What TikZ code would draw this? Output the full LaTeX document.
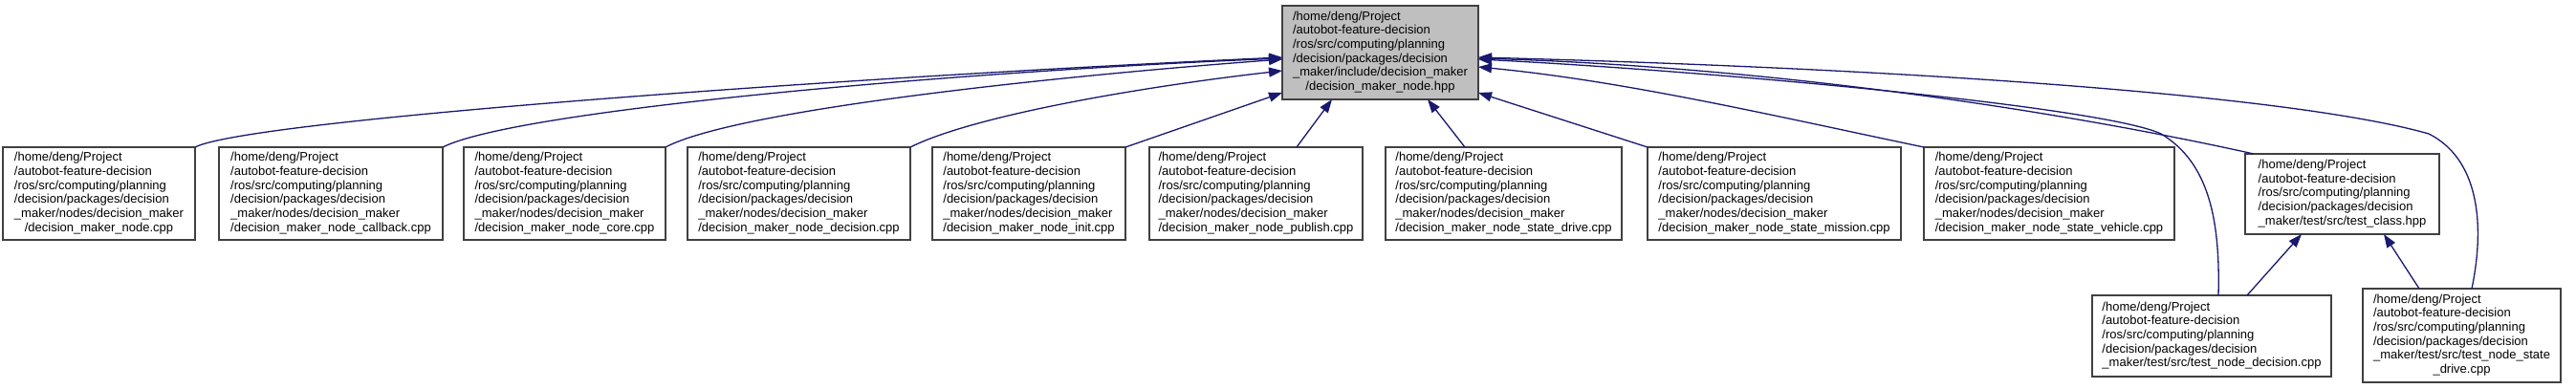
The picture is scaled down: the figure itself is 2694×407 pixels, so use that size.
\documentclass[tikz,border=0pt]{standalone}
\usepackage{fontspec}
\setmainfont{Liberation Sans}
\usetikzlibrary{arrows.meta,calc}
\definecolor{edgeblue}{HTML}{191970}
\definecolor{boxgray}{HTML}{404040}
\definecolor{topfill}{HTML}{BFBFBF}
\newcommand{\pfx}{/home/deng/Project\\/autobot-feature-decision\\/ros/src/computing/planning\\/decision/packages/decision}
\newcommand{\lbl}[2]{\begin{tabular}{@{}l@{}}#1\\\multicolumn{1}{@{}c@{}}{#2}\end{tabular}}
\tikzset{
  box/.style={draw=boxgray, line width=1.8pt, fill=white, inner sep=0pt, outer sep=0pt,
    font=\fontsize{13}{14.7}\selectfont},
  edge/.style={draw=edgeblue, line width=1.3pt, -{Triangle[length=14pt,width=10pt]}}
}
\begin{document}
\begin{tikzpicture}[x=1pt,y=-1pt]
\useasboundingbox[fill=white] (0,0) rectangle (2694,407);
\node[box, fill=topfill, minimum width=205pt, minimum height=98pt] (T) at (1443.5,55)
  {\lbl{\pfx\\\_maker/include/decision\_maker}{/decision\_maker\_node.hpp}};
\node[box, minimum width=201pt, minimum height=97pt] (B1) at (103.5,202.5)
  {\lbl{\pfx\\\_maker/nodes/decision\_maker}{/decision\_maker\_node.cpp}};
\node[box, minimum width=234pt, minimum height=97pt] (B2) at (346,202.5)
  {\lbl{\pfx\\\_maker/nodes/decision\_maker}{/decision\_maker\_node\_callback.cpp}};
\node[box, minimum width=211pt, minimum height=97pt] (B3) at (590.5,202.5)
  {\lbl{\pfx\\\_maker/nodes/decision\_maker}{/decision\_maker\_node\_core.cpp}};
\node[box, minimum width=233pt, minimum height=97pt] (B4) at (835.5,202.5)
  {\lbl{\pfx\\\_maker/nodes/decision\_maker}{/decision\_maker\_node\_decision.cpp}};
\node[box, minimum width=202pt, minimum height=97pt] (B5) at (1076,202.5)
  {\lbl{\pfx\\\_maker/nodes/decision\_maker}{/decision\_maker\_node\_init.cpp}};
\node[box, minimum width=223pt, minimum height=97pt] (B6) at (1313.5,202.5)
  {\lbl{\pfx\\\_maker/nodes/decision\_maker}{/decision\_maker\_node\_publish.cpp}};
\node[box, minimum width=247pt, minimum height=97pt] (B7) at (1572.5,202.5)
  {\lbl{\pfx\\\_maker/nodes/decision\_maker}{/decision\_maker\_node\_state\_drive.cpp}};
\node[box, minimum width=265pt, minimum height=97pt] (B8) at (1855.5,202.5)
  {\lbl{\pfx\\\_maker/nodes/decision\_maker}{/decision\_maker\_node\_state\_mission.cpp}};
\node[box, minimum width=262pt, minimum height=97pt] (B9) at (2143,202.5)
  {\lbl{\pfx\\\_maker/nodes/decision\_maker}{/decision\_maker\_node\_state\_vehicle.cpp}};
\node[box, minimum width=203pt, minimum height=84pt] (B10) at (2449.5,203)
  {\lbl{\pfx}{\_maker/test/src/test\_class.hpp}};
\node[box, minimum width=250pt, minimum height=85pt] (B11) at (2313,351.5)
  {\lbl{\pfx}{\_maker/test/src/test\_node\_decision.cpp}};
\node[box, minimum width=207pt, minimum height=98pt] (B12) at (2574.5,351)
  {\lbl{\pfx\\\_maker/test/src/test\_node\_state}{\_drive.cpp}};
% edges to the header
\draw[edge] (B1.north east) .. controls (260,125) and (900,80) .. ($(T.west)+(0,5)$);
\draw[edge] (B2.north east) .. controls (540,115) and (1000,75) .. ($(T.west)+(0,6)$);
\draw[edge] (B3.north east) .. controls (770,115) and (1100,80) .. ($(T.west)+(0,7)$);
\draw[edge] (B4.north east) .. controls (1020,120) and (1200,90) .. ($(T.west)+(0,19)$);
\draw[edge] (B5.north east) -- ($(T.west)+(0,42)$);
\draw[edge] ($(B6.north)+(42.5,0)$) -- ($(T.south west)+(52,0)$);
\draw[edge] ($(B7.north)+(-40.5,0)$) -- ($(T.south east)+(-53,0)$);
\draw[edge] (B8.north west) -- ($(T.east)+(0,42)$);
\draw[edge] (B9.north west) .. controls (1850,120) and (1700,85) .. ($(T.east)+(0,15)$);
\draw[edge] ($(B10.north west)+(9,0)$) .. controls (2150,115) and (1850,70) .. ($(T.east)+(0,6)$);
\draw[edge] ($(B11.north)+(7,0)$) .. controls (2322,230) and (2310,170) .. (2260,140)
  .. controls (2200,112) and (1800,75) .. ($(T.east)+(0,7)$);
\draw[edge] ($(B12.north)+(10.5,0)$) .. controls (2600,230) and (2590,165) .. (2540,140)
  .. controls (2400,100) and (2000,72) .. ($(T.east)+(0,5)$);
% edges to test_class.hpp
\draw[edge] ($(B11.north)+(37,0)$) -- ($(B10.south)+(-42.5,0)$);
\draw[edge] ($(B12.north)+(-44.5,0)$) -- ($(B10.south)+(43.5,0)$);
\end{tikzpicture}
\end{document}
